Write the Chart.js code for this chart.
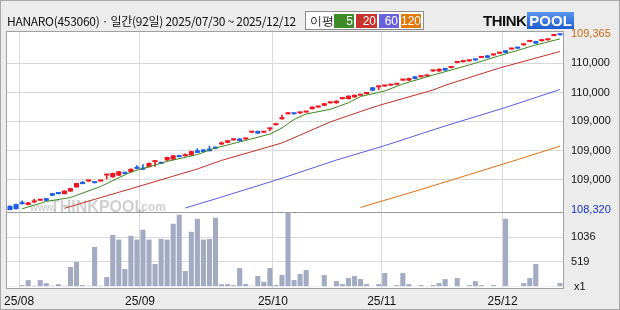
<!DOCTYPE html>
<html>
<head>
<meta charset="utf-8">
<script src="https://cdn.jsdelivr.net/npm/chart.js@4.4.1/dist/chart.umd.min.js"></script>
<style>
    html, body { margin: 0; padding: 0; background: #ececec; }
    #wrap { position: relative; width: 620px; height: 310px; overflow: hidden; }
    #chart { position: absolute; left: 0; top: 0; }
    #title { position: absolute; left: 7px; top: 12px; font: 12px "Noto Sans CJK KR", sans-serif; color: #111; white-space: nowrap; letter-spacing: -0.3px; }
    #legend { position: absolute; left: 305px; top: 11px; width: 117px; height: 17px; background: #fff; border: 1px solid #8c8c8c; font: 12px "Liberation Sans", sans-serif; }
    #legend span { position: absolute; top: 2px; height: 14px; line-height: 14px; }
    #legend .ma { color: #fff; text-align: right; padding-right: 1px; box-sizing: border-box; }
    #logo { position: absolute; left: 483px; top: 12px; height: 17px; font: bold 15px "Liberation Sans", sans-serif; white-space: nowrap; }
    #logo .think { color: #111; letter-spacing: -0.5px; }
    #logo .pool { color: #fff; background: linear-gradient(#5a96f0, #1e5cd0); padding: 0 2px; margin-left: 1px; }
</style>
</head>
<body>
<div id="wrap">
    <canvas id="chart" width="620" height="310"></canvas>
    <div id="title">HANARO(453060) · 일간(92일) 2025/07/30 ~ 2025/12/12</div>
    <div id="legend">
        <span style="left:4px;color:#111">이평</span>
        <span class="ma" style="left:28px;width:20px;background:#3d8b27">5</span>
        <span class="ma" style="left:50px;width:21px;background:#c8322d">20</span>
        <span class="ma" style="left:73px;width:20px;background:#6a62dc">60</span>
        <span class="ma" style="left:95px;width:20px;background:#e0780c">120</span>
    </div>
    <div id="logo"><span class="think">THINK</span><span class="pool">POOL</span></div>
</div>
<script>
        // Daily candles, 2025/07/30 ~ 2025/12/12 (92 trading days)
        const opens = [108345,108355,108360,108350,108365,108375,108390,108420,108420,108415,
            108430,108455,108480,108490,108485,108490,108525,108515,108525,108545,
            108545,108570,108570,108575,108605,108605,108615,108620,108640,108640,
            108645,108675,108680,108685,108695,108710,108720,108735,108745,108740,
            108780,108790,108780,108800,108825,108860,108890,108895,108895,108900,
            108920,108930,108940,108955,108955,108980,108980,108990,109000,109010,
            109050,109050,109055,109060,109065,109090,109090,109115,109110,109115,
            109145,109145,109165,109165,109195,109200,109205,109220,109225,109240,
            109240,109250,109270,109275,109290,109300,109320,109325,109325,109330,
            109355,109365];
        const highs = [108345,108355,108375,108365,108385,108375,108390,108420,108420,108435,
            108450,108480,108490,108490,108485,108490,108525,108540,108550,108545,
            108565,108585,108590,108600,108605,108605,108635,108645,108640,108655,
            108670,108685,108680,108700,108695,108725,108735,108735,108745,108740,
            108780,108790,108780,108800,108825,108885,108890,108895,108895,108900,
            108935,108930,108955,108955,108970,108980,109000,109005,109000,109010,
            109050,109050,109055,109060,109065,109090,109105,109115,109110,109115,
            109145,109160,109165,109165,109195,109200,109205,109220,109225,109240,
            109240,109250,109270,109275,109290,109300,109320,109325,109325,109330,
            109355,109365];
        const lows = [108320,108325,108355,108350,108365,108375,108375,108405,108415,108415,
            108430,108455,108475,108490,108480,108490,108505,108515,108525,108535,
            108545,108565,108560,108575,108580,108595,108615,108620,108635,108640,
            108645,108660,108665,108670,108685,108710,108720,108735,108730,108740,
            108780,108775,108780,108790,108825,108860,108890,108890,108895,108900,
            108920,108930,108940,108955,108955,108980,108980,108990,109000,109010,
            109030,109035,109055,109060,109065,109090,109090,109100,109110,109115,
            109145,109145,109150,109165,109195,109200,109205,109210,109225,109225,
            109240,109250,109255,109275,109280,109300,109320,109310,109325,109330,
            109355,109360];
        const closes = [108320,108325,108355,108365,108365,108375,108375,108405,108415,108435,
            108450,108480,108475,108490,108480,108490,108525,108540,108550,108535,
            108565,108565,108560,108600,108605,108595,108635,108645,108635,108640,
            108670,108660,108665,108670,108685,108710,108735,108735,108730,108740,
            108780,108775,108780,108800,108825,108860,108890,108890,108895,108900,
            108935,108930,108955,108955,108970,108980,109000,109005,109000,109010,
            109030,109050,109055,109060,109065,109090,109105,109100,109110,109115,
            109145,109160,109150,109165,109195,109200,109205,109210,109225,109225,
            109240,109250,109255,109275,109280,109300,109320,109310,109325,109330,
            109355,109360];
        const volumes = [14,14,35,140,21,140,77,21,56,21,
            413,518,35,21,833,21,203,1085,987,371,
            1064,987,1190,987,476,1001,987,1316,1505,329,
            1148,1421,987,1001,1442,56,56,35,390,57,
            21,225,105,393,36,246,1554,141,267,351,
            14,14,245,14,119,56,182,224,161,56,
            14,56,287,14,35,287,56,14,35,14,
            35,77,161,14,182,14,35,119,35,14,
            35,14,1421,14,14,77,182,476,14,14,
            14,77];

        // Moving averages: [day index, value]
        const ma5Pts = [[2,108327],[6,108371],[10,108394],[15,108460],[20,108546],[26,108609],[31,108650],
            [34,108689],[39,108734],[43,108772],[45,108808],[47,108859],[49,108891],[53,108919],[56,108958],
            [58,108995],[62,109028],[65,109070],[70,109123],[76,109183],[81,109238],[87,109302],[91,109338]];
        const ma20Pts = [[9,108330],[15,108394],[21,108457],[31,108564],[35,108615],[45,108719],[53,108844],
            [58,108906],[61,108942],[70,109034],[72,109062],[81,109165],[91,109263]];
        const ma60Pts = [[29,108332],[35,108397],[45,108509],[54,108617],[62,108703],[72,108820],[82,108930],[91,109037]];
        const ma120Pts = [[58,108335],[68,108442],[76,108531],[84,108620],[91,108700]];

        // Axis ticks
        const monthStarts = [2, 22, 44, 62, 82];
        const monthLabels = ['25/08', '25/09', '25/10', '25/11', '25/12'];
        const priceTicks = [108320, 108501, 108674, 108847, 109019, 109192, 109365];
        const priceLabels = ['108,320', '109,000', '109,000', '109,000', '110,000', '110,000', '109,365'];
        const volTicks = [0, 519, 1036, 1554];
        const volLabels = [' x1', '519', '1036', ''];

        // Colors
        const UP = '#f0141e';
        const DOWN = '#1e5ee6';
        const GRID = '#d9d9d9';

        const N = closes.length;
        const labels = Array.from({ length: N }, (_, i) => i);
        const candleColors = closes.map((c, i) => c >= opens[i] ? UP : DOWN);

        function sparse(points) {
            const arr = new Array(N).fill(null);
            points.forEach(([i, v]) => { arr[i] = v; });
            return arr;
        }

        function maLine(label, points, color) {
            return {
                type: 'line', label, data: sparse(points), yAxisID: 'y',
                borderColor: color, borderWidth: 1, pointRadius: 0,
                spanGaps: true, tension: 0, order: 1
            };
        }

        // Background, frame and watermark
        const framePlugin = {
            id: 'frame',
            beforeDraw(chart) {
                const { ctx, chartArea: a } = chart;
                ctx.save();
                ctx.fillStyle = '#ececec';
                ctx.fillRect(0, 0, chart.width, chart.height);
                ctx.fillStyle = '#fff';
                ctx.fillRect(a.left, a.top, a.right - a.left, a.bottom - a.top);
                ctx.strokeStyle = '#a8a8a8';
                ctx.strokeRect(0.5, 0.5, chart.width - 1, chart.height - 1);
                ctx.restore();
            },
            beforeDatasetsDraw(chart) {
                const { ctx } = chart;
                ctx.save();
                ctx.fillStyle = 'rgba(150,150,150,0.45)';
                ctx.textBaseline = 'alphabetic';
                ctx.font = 'bold 10px "Liberation Sans"';
                ctx.fillText('www.', 30, 211);
                ctx.font = 'bold 16px "Liberation Sans"';
                ctx.fillText('THINKPOOL', 50, 212);
                ctx.font = 'bold 12px "Liberation Sans"';
                ctx.fillText('.com', 138, 211);
                ctx.restore();
            },
            afterDraw(chart) {
                const { ctx, chartArea: a } = chart;
                ctx.save();
                ctx.strokeStyle = '#a0a0a0';
                ctx.lineWidth = 1;
                ctx.strokeRect(a.left - 0.5, a.top - 0.5, a.right - a.left + 1, a.bottom - a.top + 1);
                ctx.restore();
            }
        };

        const tickFont = { family: '"Liberation Sans", sans-serif', size: 11 };

        new Chart(document.getElementById('chart'), {
            type: 'bar',
            data: {
                labels: labels,
                datasets: [
                    maLine('5', ma5Pts, '#3c8a20'),
                    maLine('20', ma20Pts, '#c43028'),
                    maLine('60', ma60Pts, '#5c5ce0'),
                    maLine('120', ma120Pts, '#e07010'),
                    {
                        label: 'body', yAxisID: 'y', order: 2, grouped: false,
                        data: opens.map((o, i) => [o, closes[i]]),
                        backgroundColor: candleColors,
                        barPercentage: 0.84, categoryPercentage: 1, minBarLength: 2
                    },
                    {
                        label: 'wick', yAxisID: 'y', order: 3, grouped: false,
                        data: lows.map((l, i) => [l, highs[i]]),
                        backgroundColor: candleColors,
                        barThickness: 1
                    },
                    {
                        label: 'volume', yAxisID: 'yv', order: 4, grouped: false,
                        data: volumes,
                        backgroundColor: '#a3abc2',
                        barPercentage: 0.84, categoryPercentage: 1
                    }
                ]
            },
            options: {
                responsive: false,
                animation: false,
                events: [],
                layout: { padding: { left: 7, top: 32, right: 0, bottom: 0 } },
                plugins: { legend: { display: false }, tooltip: { enabled: false } },
                scales: {
                    x: {
                        type: 'category',
                        offset: true,
                        border: { display: false },
                        grid: {
                            offset: true,
                            drawTicks: false,
                            color: c => monthStarts.includes(c.index) ? GRID : 'rgba(0,0,0,0)'
                        },
                        ticks: {
                            autoSkip: false, maxRotation: 0, padding: 6, labelOffset: -3,
                            color: '#111', font: { family: '"Liberation Sans", sans-serif', size: 12 },
                            callback: (v, i) => {
                                const k = monthStarts.indexOf(i);
                                return k >= 0 ? monthLabels[k] : '';
                            }
                        },
                        afterFit: s => { s.height = 22; }
                    },
                    y: {
                        position: 'right', weight: 1,
                        min: 107856, max: 109379,
                        border: { display: false },
                        grid: {
                            drawTicks: false,
                            color: c => (c.index === 0 || c.index === priceTicks.length - 1) ? 'rgba(0,0,0,0)' : GRID
                        },
                        afterBuildTicks: s => { s.ticks = priceTicks.map(v => ({ value: v })); },
                        ticks: {
                            padding: 8, font: tickFont, autoSkip: false,
                            color: c => c.index === 0 ? '#1530d0' : (c.index === priceTicks.length - 1 ? '#cc6a14' : '#111'),
                            callback: (v, i) => priceLabels[i]
                        },
                        afterFit: s => { s.width = 57; }
                    },
                    // volume axis sits at the outer edge with zero width; mirrored labels pulled back under the price labels
                    yv: {
                        position: 'right', weight: 2,
                        min: -25, max: 5320,
                        border: { display: false },
                        grid: {
                            drawTicks: false,
                            color: c => c.index === 3 ? '#9a9a9a' : (c.index === 0 ? 'rgba(0,0,0,0)' : GRID)
                        },
                        afterBuildTicks: s => { s.ticks = volTicks.map(v => ({ value: v })); },
                        ticks: {
                            mirror: true, crossAlign: 'far', padding: -24.5,
                            color: '#111', font: tickFont, autoSkip: false,
                            callback: (v, i) => volLabels[i]
                        },
                        afterFit: s => { s.width = 0; }
                    }
                }
            },
            plugins: [framePlugin]
        });
</script>
</body>
</html>
